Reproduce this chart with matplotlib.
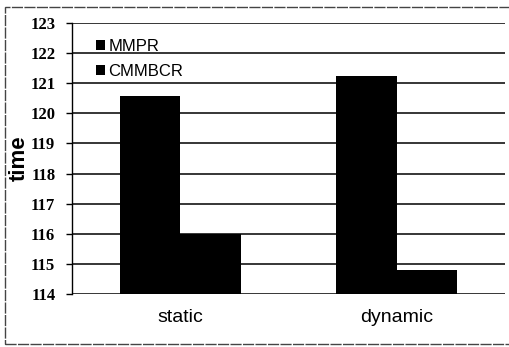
import matplotlib
matplotlib.use("Agg")
import matplotlib.pyplot as plt
import numpy as np

categories = ["static", "dynamic"]
series_names = ["MMPR", "CMMBCR"]
mmpr = [120.57, 121.24]
cmmbcr = [116.0, 114.8]
y_ticks = [114, 115, 116, 117, 118, 119, 120, 121, 122, 123]

fig = plt.figure(figsize=(5.09, 3.47), dpi=100)
# outer frame around the whole chart
frame = plt.Rectangle((5 / 509, 3 / 347), 1.2, 1 - 10 / 347, transform=fig.transFigure,
                      fill=False, edgecolor="#444444", linewidth=1.0, linestyle=(0, (8, 1)))
fig.patches.append(frame)

ax = fig.add_axes([72 / 509, 1 - 294 / 347, (505 - 72) / 509, (294 - 23) / 347])
x = np.arange(len(categories))
w = 0.28
ax.bar(x - w / 2, mmpr, w, color="black", zorder=3, label=series_names[0])
ax.bar(x + w / 2, cmmbcr, w, color="black", zorder=3, label=series_names[1])

ax.set_ylim(114, 123)
ax.set_xlim(-0.5, 1.5)
ax.set_yticks(y_ticks)
ax.set_yticklabels([str(t) for t in y_ticks], fontfamily="Liberation Serif",
                   fontweight="bold", fontsize=12)
ax.yaxis.grid(True, color="black", linewidth=1.1, zorder=0)
ax.set_axisbelow(True)
ax.tick_params(axis="y", length=4, width=1, pad=8)
ax.set_xticks(x)
ax.set_xticklabels(categories, fontfamily="Liberation Sans", fontsize=14)
ax.tick_params(axis="x", length=0, pad=11)
for s in ["top", "right", "bottom"]:
    ax.spines[s].set_visible(False)
ax.spines["left"].set_linewidth(1)
ax.set_ylabel("time", fontfamily="Liberation Sans", fontweight="bold", fontsize=16)
ax.yaxis.set_label_coords(-0.098, 0.5)

leg = ax.legend(loc="upper left", bbox_to_anchor=(0.02, 0.995), frameon=False,
                prop={"family": "Liberation Sans", "size": 12}, handlelength=0.55,
                handleheight=0.55, handletextpad=0.2, labelspacing=0.55)

fig.savefig("out.png", dpi=100)
